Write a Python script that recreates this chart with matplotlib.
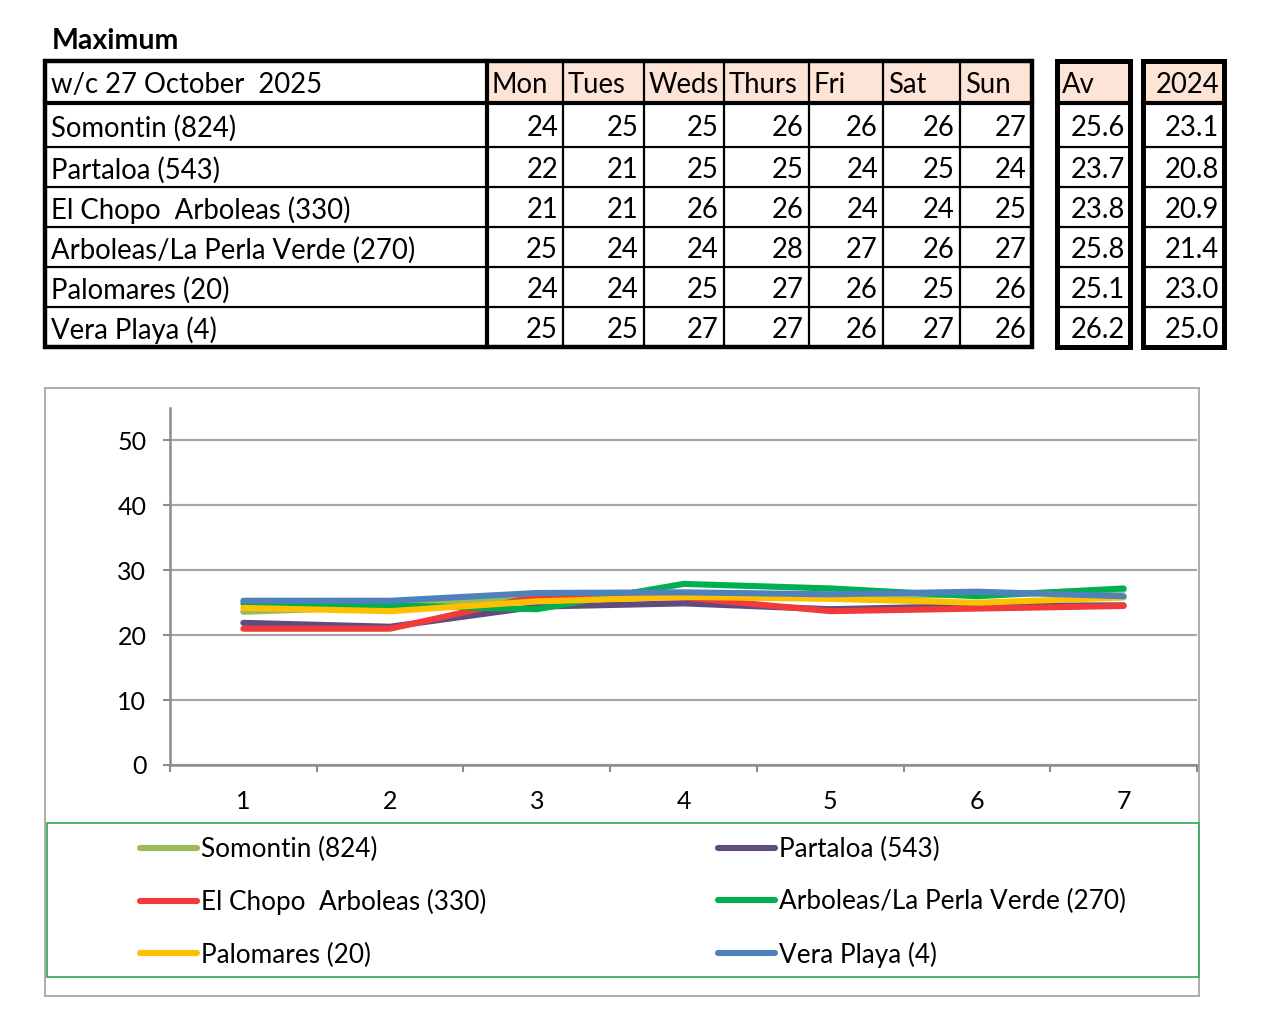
import numpy as np
import matplotlib.pyplot as plt
from matplotlib.patches import Rectangle

plt.rcParams['font.family'] = ['Lato', 'DejaVu Sans']

# ---- data ----
days = ["Mon", "Tues", "Weds", "Thurs", "Fri", "Sat", "Sun"]
stations = ["Somontin (824)", "Partaloa (543)", "El Chopo  Arboleas (330)",
            "Arboleas/La Perla Verde (270)", "Palomares (20)", "Vera Playa (4)"]
table_max = [
    [24, 25, 25, 26, 26, 26, 27],
    [22, 21, 25, 25, 24, 25, 24],
    [21, 21, 26, 26, 24, 24, 25],
    [25, 24, 24, 28, 27, 26, 27],
    [24, 24, 25, 27, 26, 25, 26],
    [25, 25, 27, 27, 26, 27, 26],
]
week_av = ["25.6", "23.7", "23.8", "25.8", "25.1", "26.2"]
last_year = ["23.1", "20.8", "20.9", "21.4", "23.0", "25.0"]

# values as plotted in the chart (unrounded)
day_num = [1, 2, 3, 4, 5, 6, 7]
somontin = [23.6, 24.4, 25.8, 26.0, 26.0, 26.2, 27.0]
partaloa = [21.9, 21.3, 24.4, 24.9, 24.0, 24.5, 24.6]
el_chopo = [21.0, 21.0, 26.0, 25.8, 23.7, 24.1, 24.5]
arboleas = [24.9, 24.6, 24.0, 27.9, 27.2, 26.0, 27.2]
palomares = [24.2, 23.7, 25.2, 25.9, 25.6, 25.0, 25.8]
vera = [25.3, 25.3, 26.5, 26.6, 26.3, 26.7, 26.0]
series = [somontin, partaloa, el_chopo, arboleas, palomares, vera]
colors = ['#9BBB59', '#5F4B7E', '#F23A3A', '#00B050', '#FFC000', '#4F81BD']

W, H = 1265, 1036
fig = plt.figure(figsize=(W / 100, H / 100), dpi=100)

canvas = fig.add_axes([0, 0, 1, 1])
canvas.set_xlim(0, W)
canvas.set_ylim(H, 0)
canvas.axis('off')


def fig_box(x0, y0, x1, y1):
    return [x0 / W, 1 - y1 / H, (x1 - x0) / W, (y1 - y0) / H]


def hline(x0, x1, y, lw):
    canvas.plot([x0, x1], [y, y], color='black', lw=lw, solid_capstyle='projecting')


def vline(x, y0, y1, lw):
    canvas.plot([x, x], [y0, y1], color='black', lw=lw, solid_capstyle='projecting')


# ---- table ----
canvas.text(52, 41, "Maximum", fontsize=20.5, fontweight='bold', va='center')

col_edges = [45, 487, 563, 644, 724, 809, 883, 960, 1032]
row_edges = [61, 103, 147, 187, 227, 267, 307, 347]
av_edges = [1057, 1130]
ly_edges = [1143, 1224]
peach = '#FCE4D6'
fs = 19.8

for x0, x1 in zip(col_edges[1:-1], col_edges[2:]):
    canvas.add_patch(Rectangle((x0, row_edges[0]), x1 - x0, row_edges[1] - row_edges[0],
                               facecolor=peach, edgecolor='none'))
for x0, x1 in (av_edges, ly_edges):
    canvas.add_patch(Rectangle((x0, row_edges[0]), x1 - x0, row_edges[1] - row_edges[0],
                               facecolor=peach, edgecolor='none'))

# grid lines of the main block
for y in row_edges[2:-1]:
    hline(col_edges[0], col_edges[-1], y, 1.6)
for x in col_edges[2:-1]:
    vline(x, row_edges[0], row_edges[-1], 1.6)
hline(col_edges[0], col_edges[-1], row_edges[1], 3.0)
vline(col_edges[1], row_edges[0], row_edges[-1], 3.0)
canvas.add_patch(Rectangle((col_edges[0], row_edges[0]), col_edges[-1] - col_edges[0],
                           row_edges[-1] - row_edges[0], fill=False, edgecolor='black', lw=3.2))

# side boxes (Av, 2024)
for x0, x1 in (av_edges, ly_edges):
    for y in row_edges[2:-1]:
        hline(x0, x1, y, 1.6)
    hline(x0, x1, row_edges[1], 3.0)
    canvas.add_patch(Rectangle((x0, row_edges[0]), x1 - x0, row_edges[-1] - row_edges[0],
                               fill=False, edgecolor='black', lw=3.6))

row_mid = [(a + b) / 2 + 3 for a, b in zip(row_edges[:-1], row_edges[1:])]
canvas.text(col_edges[0] + 6, row_mid[0], "w/c 27 October  2025", fontsize=fs, va='center')
for j, d in enumerate(days):
    canvas.text(col_edges[j + 1] + 5, row_mid[0], d, fontsize=fs, va='center')
canvas.text(av_edges[0] + 5, row_mid[0], "Av", fontsize=fs, va='center')
canvas.text(ly_edges[1] - 5, row_mid[0], "2024", fontsize=fs, va='center', ha='right')

for i, name in enumerate(stations):
    y = row_mid[i + 1]
    canvas.text(col_edges[0] + 6, y, name, fontsize=fs, va='center')
    for j, v in enumerate(table_max[i]):
        canvas.text(col_edges[j + 2] - 5, y, str(v), fontsize=fs, va='center', ha='right')
    canvas.text(av_edges[1] - 5, y, week_av[i], fontsize=fs, va='center', ha='right')
    canvas.text(ly_edges[1] - 5, y, last_year[i], fontsize=fs, va='center', ha='right')

# ---- chart frame and legend box ----
canvas.add_patch(Rectangle((45, 388), 1199 - 45, 996 - 388, fill=False,
                           edgecolor='#A6A6A6', lw=1.3))
canvas.add_patch(Rectangle((47, 823), 1199 - 47, 977 - 823, fill=False,
                           edgecolor='#3DAE5F', lw=1.3))

# ---- line chart ----
ax = fig.add_axes(fig_box(170, 408, 1197, 765))
ax.set_facecolor('none')
lines = []
for name, vals, c in zip(stations, series, colors):
    ln, = ax.plot(day_num, vals, color=c, lw=4.4, solid_capstyle='round',
                  solid_joinstyle='round', label=name)
    lines.append(ln)

ax.set_xlim(0.5, 7.5)
ax.set_ylim(0, 55)
ax.set_yticks(range(0, 51, 10))
ax.set_xticks(day_num)
ax.set_xticks(np.arange(0.5, 8, 1), minor=True)
ax.grid(axis='y', color='#A6A6A6', lw=1.6)
ax.set_axisbelow(True)
for s in ('top', 'right'):
    ax.spines[s].set_visible(False)
for s in ('left', 'bottom'):
    ax.spines[s].set_color('#8C8C8C')
    ax.spines[s].set_linewidth(1.8)
ax.tick_params(axis='y', length=5, width=1.5, color='#8C8C8C', pad=12, labelsize=18)
ax.tick_params(axis='x', which='major', length=0, pad=18, labelsize=18)
ax.tick_params(axis='x', which='minor', length=5, width=1.5, color='#8C8C8C')

order = [0, 2, 4, 1, 3, 5]
fig.legend([lines[k] for k in order], [stations[k] for k in order],
           loc='upper left', bbox_to_anchor=(140 / W, 1 - 837 / H), ncol=2,
           frameon=False, fontsize=18.8, handlelength=2.18, handletextpad=0.15,
           columnspacing=8.9, labelspacing=1.04, borderaxespad=0, borderpad=0)

fig.savefig('out.png', dpi=100)
